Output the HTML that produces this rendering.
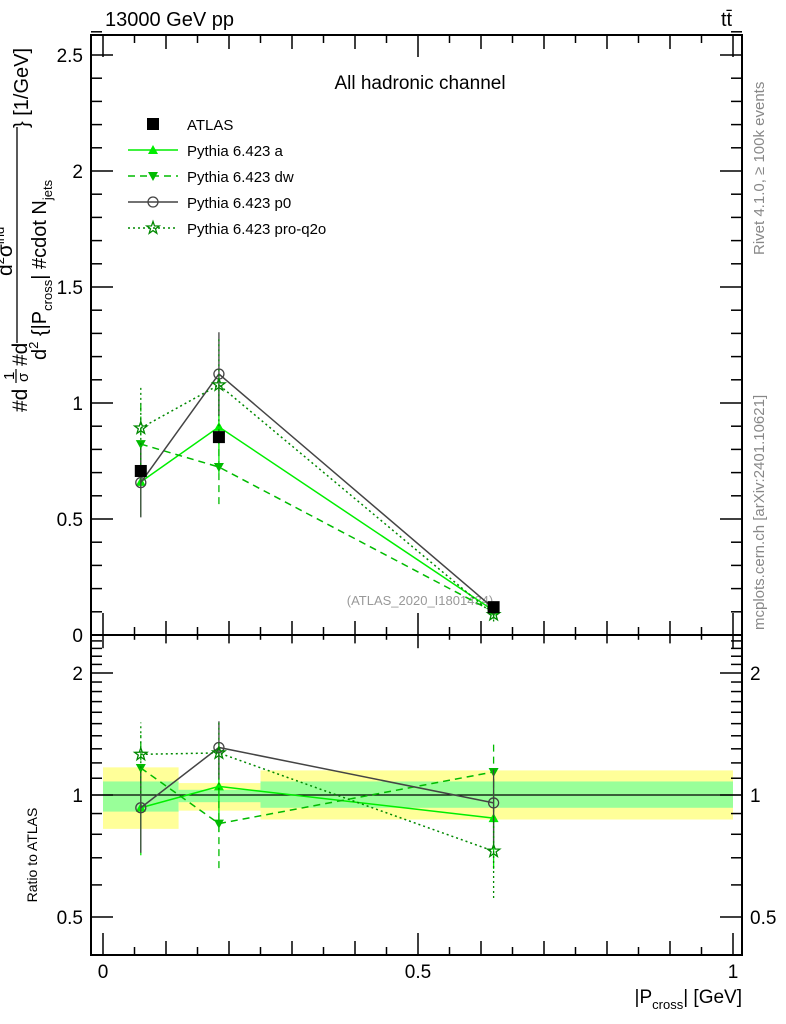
<!DOCTYPE html>
<html><head><meta charset="utf-8"><style>
body{margin:0;background:#fff}
svg{display:block;font-family:"Liberation Sans",sans-serif}
</style></head><body>
<svg id="c" width="786" height="1024" viewBox="0 0 786 1024">
<text x="105" y="26" font-size="20">13000 GeV pp</text>
<text x="721" y="26" font-size="20">tt̄</text>
<text x="420" y="89" font-size="19" text-anchor="middle">All hadronic channel</text>
<text x="420" y="605" font-size="13" fill="#999" text-anchor="middle">(ATLAS_2020_I1801434)</text>
<text transform="translate(764,255) rotate(-90)" font-size="15" fill="#888">Rivet 4.1.0, ≥ 100k events</text>
<text transform="translate(764,630) rotate(-90)" font-size="15" fill="#888">mcplots.cern.ch [arXiv:2401.10621]</text>
<g font-size="21">
<text transform="translate(27,412) rotate(-90)">#d</text>
<text transform="translate(14,380) rotate(-90)" font-size="15">1</text>
<line x1="16" y1="383" x2="16" y2="369" stroke="#000" stroke-width="1.2"/>
<text transform="translate(28,382) rotate(-90)" font-size="15">σ</text>
<text transform="translate(27,366) rotate(-90)">#d</text>
<text transform="translate(12,276) rotate(-90)">d<tspan font-size="13" dy="-8">2</tspan><tspan dy="8">σ</tspan><tspan font-size="13" dy="-8">ind</tspan></text>
<line x1="17" y1="343" x2="17" y2="127" stroke="#000" stroke-width="1.3"/>
<text transform="translate(46,360) rotate(-90)" font-size="20">d<tspan font-size="13" dy="-8">2</tspan><tspan dy="8"> {|P</tspan><tspan font-size="13" dy="6">cross</tspan><tspan dy="-6">| #cdot N</tspan><tspan font-size="13" dy="6">jets</tspan></text>
<text transform="translate(28,128) rotate(-90)" font-size="20">} [1/GeV]</text>
</g>
<text transform="translate(37,855) rotate(-90)" font-size="14" text-anchor="middle">Ratio to ATLAS</text>
<text x="742" y="1003" font-size="19" text-anchor="end">|P<tspan font-size="13" dy="6">cross</tspan><tspan dy="-6">| [GeV]</tspan></text>
<g id="g"></g>
</svg>
<script>
const xs=[0.06,0.184,0.62];
const binEdges=[0,0.12,0.25,1];
const atlas=[0.707,0.853,0.12];
const seriesNames=["Pythia 6.423 a","Pythia 6.423 dw","Pythia 6.423 p0","Pythia 6.423 pro-q2o"];
const valA=[0.66,0.897,0.105];
const valDW=[0.823,0.724,0.1];
const valP0=[0.657,1.125,0.115];
const valQ=[0.892,1.078,0.088];
const errA=[0.15,0.2,0.03];
const errDW=[0.17,0.16,0.03];
const errP0=[0.15,0.18,0.03];
const errQ=[0.18,0.2,0.03];
const ratioA=[0.93,1.05,0.877];
const ratioDW=[1.166,0.85,1.14];
const ratioP0=[0.93,1.31,0.956];
const ratioQ=[1.26,1.27,0.727];
const ratioErrA=[0.22,0.24,0.22];
const ratioErrDW=[0.24,0.19,0.23];
const ratioErrP0=[0.21,0.21,0.2];
const ratioErrQ=[0.25,0.24,0.17];
const bandYellowLo=[0.825,0.915,0.87];
const bandYellowHi=[1.17,1.07,1.15];
const bandGreenLo=[0.91,0.96,0.93];
const bandGreenHi=[1.08,1.03,1.08];
const yTicks=[0,0.5,1,1.5,2,2.5];
const yTickLabels=["0","0.5","1","1.5","2","2.5"];
const rTicks=[0.5,1,2];
const rTickLabels=["0.5","1","2"];
const xTicks=[0,0.5,1];
const xTickLabels=["0","0.5","1"];

const L=91,R=742,T=35,M=635,B=955;
const X=v=>103+630*v;
const Y=v=>M-232*v;
const RY=v=>795-122*Math.log2(v);
const g=document.getElementById('g');
const NS="http://www.w3.org/2000/svg";
function el(t,a,p){const e=document.createElementNS(NS,t);for(const k in a)e.setAttribute(k,a[k]);(p||g).appendChild(e);return e;}

for(let i=0;i<3;i++){
 let r=el('rect',{x:X(binEdges[i]),y:RY(bandYellowHi[i]),width:X(binEdges[i+1])-X(binEdges[i]),height:RY(bandYellowLo[i])-RY(bandYellowHi[i]),fill:'#ffff99'});
 
 
 let q=el('rect',{x:X(binEdges[i]),y:RY(bandGreenHi[i]),width:X(binEdges[i+1])-X(binEdges[i]),height:RY(bandGreenLo[i])-RY(bandGreenHi[i]),fill:'#99ff99'});
 
 
}
let one=el('line',{x1:L,x2:R,y1:RY(1),y2:RY(1),stroke:'#000','stroke-width':1.2});



for(const [y1,y2] of [[T,M],[M,B]]){
 let f=el('rect',{x:L,y:y1,width:R-L,height:y2-y1,fill:'none',stroke:'#000','stroke-width':2});
 
 
}
for(let v=0;v<=2.6001;v+=0.1){const big=Math.abs(v*2-Math.round(v*2))<1e-6;const len=big?22:11;
 el('line',{x1:L,x2:L+len,y1:Y(v),y2:Y(v),stroke:'#000','stroke-width':1.5});
 el('line',{x1:R,x2:R-len,y1:Y(v),y2:Y(v),stroke:'#000','stroke-width':1.5});}
yTicks.forEach((v,i)=>{let t=el('text',{x:L-8,y:Y(v)+7,'font-size':19,'text-anchor':'end'});t.textContent=yTickLabels[i];
 
 });
const rt=[0.5,0.6,0.7,0.8,0.9,1,1.1,1.2,1.3,1.4,1.5,1.6,1.7,1.8,1.9,2,2.1,2.2,2.3,2.4];
rt.forEach(v=>{const big=[0.5,1,2].includes(v);const len=big?22:11;
 el('line',{x1:L,x2:L+len,y1:RY(v),y2:RY(v),stroke:'#000','stroke-width':1.5});
 el('line',{x1:R,x2:R-len,y1:RY(v),y2:RY(v),stroke:'#000','stroke-width':1.5});});
rTicks.forEach((v,i)=>{for(const [x,a] of [[L-8,'end'],[R+8,'start']]){let t=el('text',{x:x,y:RY(v)+7,'font-size':19,'text-anchor':a});t.textContent=rTickLabels[i];
 
 }});
for(let k=0;k<=20;k++){const v=k*0.05;const len=(k%10==0)?22:(k%2==0?14:8);
 el('line',{x1:X(v),x2:X(v),y1:B,y2:B-len,stroke:'#000','stroke-width':1.5});
 el('line',{x1:X(v),x2:X(v),y1:M,y2:M-len,stroke:'#000','stroke-width':1.5});
 el('line',{x1:X(v),x2:X(v),y1:T,y2:T+len,stroke:'#000','stroke-width':1.5});
 el('line',{x1:X(v),x2:X(v),y1:M,y2:M+len*0.6,stroke:'#000','stroke-width':1.5});}
xTicks.forEach((v,i)=>{let t=el('text',{x:X(v),y:978,'font-size':19,'text-anchor':'middle'});t.textContent=xTickLabels[i];
 
 });

function marker(type,x,y,c,p){
 if(type=='tri')el('path',{d:`M${x-5},${y+4}L${x+5},${y+4}L${x},${y-5}Z`,fill:c},p);
 if(type=='tdn')el('path',{d:`M${x-5},${y-4}L${x+5},${y-4}L${x},${y+5}Z`,fill:c},p);
 if(type=='circ')el('circle',{cx:x,cy:y,r:5,fill:'none',stroke:c,'stroke-width':1.3},p);
 if(type=='star'){let d='';for(let i=0;i<10;i++){const r=i%2?2.6:6.5;const a=-Math.PI/2+i*Math.PI/5;d+=(i?'L':'M')+(x+r*Math.cos(a)).toFixed(1)+','+(y+r*Math.sin(a)).toFixed(1);}el('path',{d:d+'Z',fill:'none',stroke:c,'stroke-width':1.3},p);}
 if(type=='sq')el('rect',{x:x-6,y:y-6,width:12,height:12,fill:c},p);
}
const series=[
 {vals:valA,errs:errA,rv:ratioA,re:ratioErrA,c:'#00ee00',dash:'',m:'tri'},
 {vals:valDW,errs:errDW,rv:ratioDW,re:ratioErrDW,c:'#00bb00',dash:'7,5',m:'tdn'},
 {vals:valP0,errs:errP0,rv:ratioP0,re:ratioErrP0,c:'#444',dash:'',m:'circ'},
 {vals:valQ,errs:errQ,rv:ratioQ,re:ratioErrQ,c:'#008800',dash:'2,3',m:'star'}];
series.forEach((s,si)=>{
 const gr=el('g',{});
 
 
 el('polyline',{points:s.vals.map((v,i)=>X(xs[i])+','+Y(v)).join(' '),fill:'none',stroke:s.c,'stroke-width':1.5,'stroke-dasharray':s.dash},gr);
 el('polyline',{points:s.rv.map((v,i)=>X(xs[i])+','+RY(v)).join(' '),fill:'none',stroke:s.c,'stroke-width':1.5,'stroke-dasharray':s.dash},gr);
 s.vals.forEach((v,i)=>{const x=X(xs[i]);const r=s.rv[i];
  el('line',{x1:x,x2:x,y1:Y(v-s.errs[i]),y2:Y(v+s.errs[i]),stroke:s.c,'stroke-width':1.3,'stroke-dasharray':s.dash},gr);
  el('line',{x1:x,x2:x,y1:RY(r-s.re[i]),y2:RY(r+s.re[i]),stroke:s.c,'stroke-width':1.3,'stroke-dasharray':s.dash},gr);
  marker(s.m,x,Y(v),s.c,gr);marker(s.m,x,RY(r),s.c,gr);});
});
atlas.forEach((v,i)=>{const gr=el('g',{});
 
 
 marker('sq',X(xs[i]),Y(v),'#000',gr);});
const legMarks=['sq','tri','tdn','circ','star'];
const legText=['ATLAS'].concat(seriesNames);
const legCols=['#000','#00ee00','#00bb00','#444','#008800'];
const legDash=['','','7,5','','2,3'];
legText.forEach((t,i)=>{const y=124+26*i;const gr=el('g',{});
 
 
 if(i>0)el('line',{x1:128,x2:178,y1:y,y2:y,stroke:legCols[i],'stroke-width':1.5,'stroke-dasharray':legDash[i]},gr);
 marker(legMarks[i],153,y,legCols[i],gr);
 const tx=el('text',{x:187,y:y+6,'font-size':15},gr);tx.textContent=t;});
</script>
</body></html>
